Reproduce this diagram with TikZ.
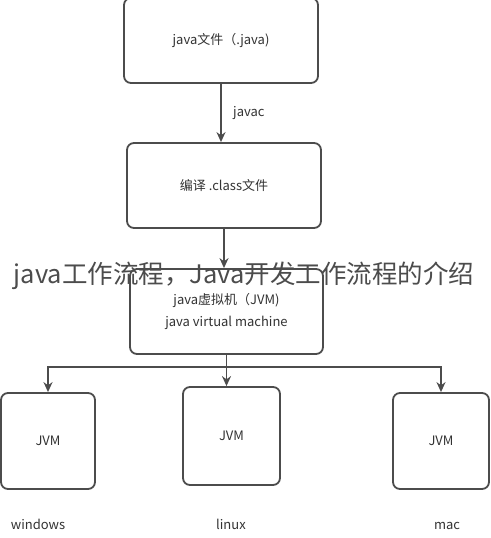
\documentclass[tikz,border=0pt]{standalone}
\usepackage{fontspec}
\setmainfont{Noto Sans CJK SC}
\usetikzlibrary{arrows.meta}
\begin{document}
\begin{tikzpicture}[x=1pt,y=-1pt,
	boite/.style={draw=black!70,line width=1.8pt,rounded corners=7pt,fill=white,font=\fontsize{13}{22}\selectfont,text=black!80,align=center},
	fleche/.style={draw=black!70,line width=1.8pt,-{Stealth[length=10pt,width=9pt]}},
	etiquette/.style={font=\fontsize{13}{15}\selectfont,text=black!80}]
	\useasboundingbox (0,0) rectangle (490,538);
	% les trois étapes
	\node[boite,minimum width=194pt,minimum height=85pt] (source) at (221,40.5) {java文件（.java)};
	\node[boite,minimum width=194pt,minimum height=85pt] (classe) at (224,185.5) {编译 .class文件};
	\node[boite,minimum width=193pt,minimum height=85pt] (jvm) at (226.5,311.5) {java虚拟机（JVM)\\java virtual machine};
	% les trois plateformes
	\node[boite,minimum width=94pt,minimum height=96pt] (win) at (48,441) {JVM};
	\node[boite,minimum width=97pt,minimum height=98pt] (lin) at (231.5,436) {JVM};
	\node[boite,minimum width=96pt,minimum height=96pt] (mac) at (441,441) {JVM};
	\node[etiquette,anchor=base] (winnom) at (38,529) {windows};
	\node[etiquette,anchor=base] (linnom) at (231,529) {linux};
	\node[etiquette,anchor=base] (macnom) at (447,529) {mac};
	% les flèches
	\draw[fleche] (source.south -| 221,0) -- node[etiquette,right=8pt] (javac) {javac} (classe.north -| 221,0);
	\draw[fleche] (classe.south -| 224,0) -- (jvm.north -| 224,0);
	\coordinate (fourche) at (226.5,367);
	\draw[fleche] (jvm.south) -- (jvm.south |- lin.north);
	\draw[fleche] (fourche) -| (win.north);
	\draw[fleche] (fourche) -| (mac.north);
	% le titre par-dessus
	\node[font=\fontsize{25.5}{30}\selectfont,text=black!70] (titre) at (244,276) {java工作流程，Java开发工作流程的介绍};
\end{tikzpicture}
\end{document}
